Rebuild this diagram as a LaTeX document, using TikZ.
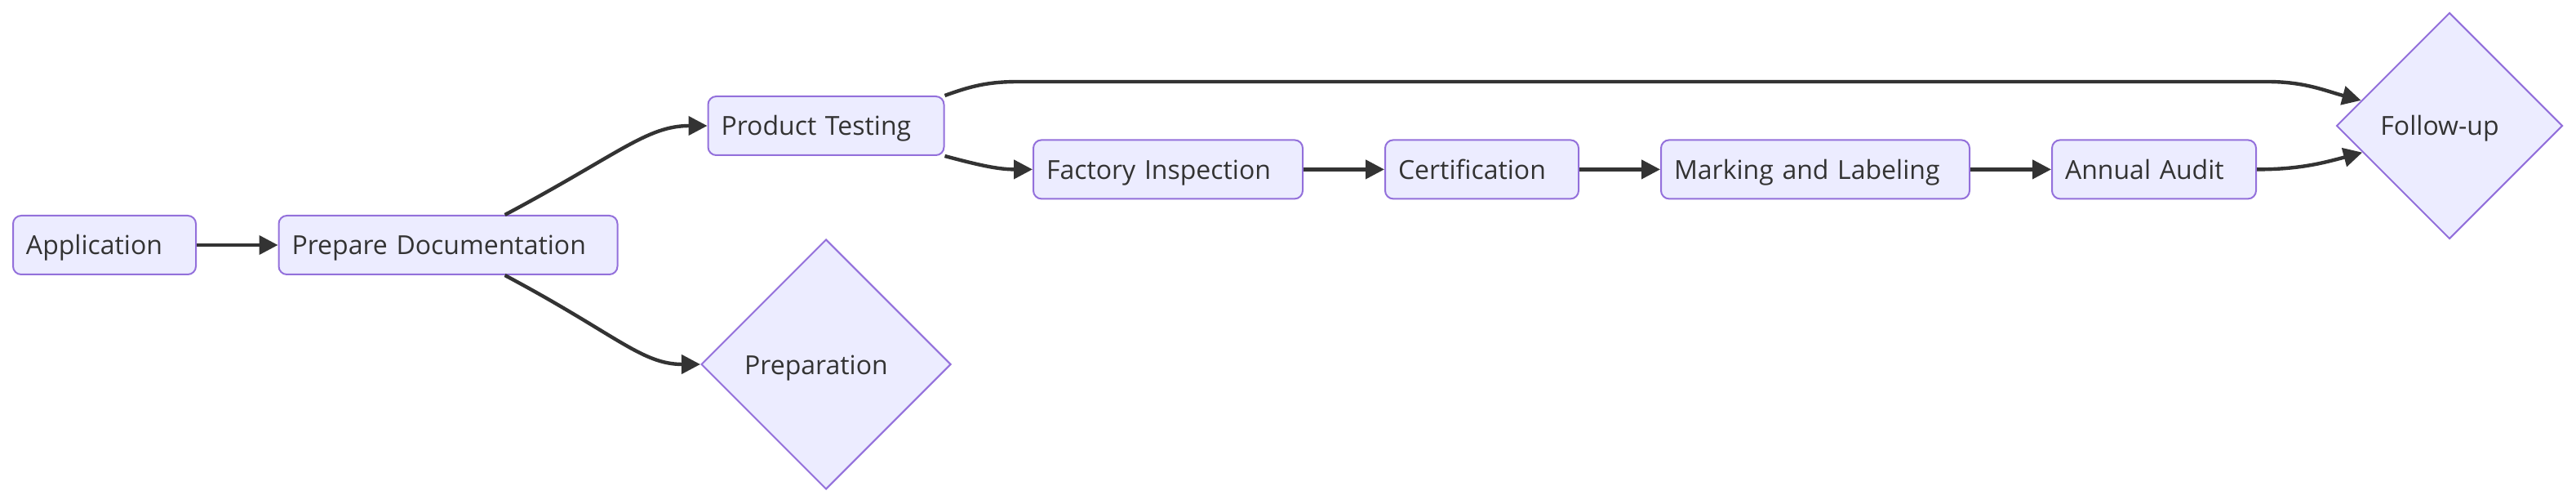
\documentclass[tikz,border=0pt]{standalone}
\usepackage{fontspec}
\setmainfont{Open Sans}
\usepackage{tikz}
\usetikzlibrary{arrows.meta,positioning,shapes.geometric}
\definecolor{nodefill}{HTML}{ECECFF}
\definecolor{nodeedge}{HTML}{9370DB}
\definecolor{linkgray}{HTML}{333333}

\begin{document}
\begin{tikzpicture}[x=1pt, y=1pt,
  every node/.style={font=\fontsize{16}{19}\selectfont, text=linkgray},
  stage/.style={rectangle, rounded corners=5pt, draw=nodeedge, fill=nodefill, line width=1pt,
    minimum height=36pt, inner xsep=8pt, align=left, text width=#1,
    text height=14pt, text depth=2pt},
  gate/.style={diamond, draw=nodeedge, fill=nodefill, line width=1pt, inner sep=0pt,
    minimum width=#1, minimum height=#1, text height=14pt, text depth=2pt},
  link/.style={-{Triangle[length=11.5pt,width=11.5pt]}, line width=2.2pt, draw=linkgray}]
  \useasboundingbox (0,0) rectangle (1578,308);

  % Start of the process
  \node[stage=96pt] (application) at (64,158) {Application};
  \node[stage=191.5pt] (prepdoc) at (274.5,158) {Prepare Documentation};

  % Two branches
  \node[stage=128.5pt] (testing) at (506,231) {Product Testing};
  \node[gate=153pt] (preparation) at (506,85) {\hspace*{-12pt}Preparation};

  % Main chain
  \node[stage=149pt] (factory) at (715.5,204.3) {Factory Inspection};
  \node[stage=102.5pt] (certif) at (907.75,204.3) {Certification};
  \node[stage=173pt] (marking) at (1112,204.3) {Marking and Labeling};
  \node[stage=109pt] (audit) at (1319.5,204.3) {Annual Audit};
  \node[gate=138.5pt] (followup) at (1500.5,231) {\hspace*{-12pt}Follow-up};

  % Links
  \draw[link] (application) -- (prepdoc);
  \draw[link] (prepdoc) to[out=28,in=180,out looseness=1.5,in looseness=0.7] (testing);
  \draw[link] (prepdoc) to[out=-28,in=180,out looseness=1.5,in looseness=0.7] (preparation);
  \draw[link] (testing.south east) to[out=-15,in=180] (factory);
  \draw[link] (factory) -- (certif);
  \draw[link] (certif) -- (marking);
  \draw[link] (marking) -- (audit);
  \draw[link] (audit) to[out=0,in=195] (followup.197);
  \draw[link] (testing.north east) to[out=20,in=180] (624,258) -- (1389,258)
    to[out=0,in=165] (followup.164);
\end{tikzpicture}
\end{document}
